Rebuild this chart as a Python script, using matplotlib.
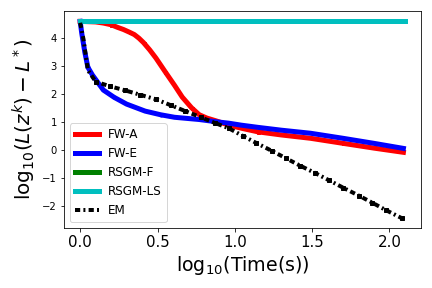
import numpy as np
import matplotlib.pyplot as plt

# FW-A
fwa_x = [0.0, 0.1, 0.15, 0.2, 0.24, 0.28, 0.32, 0.35, 0.38, 0.41, 0.45, 0.49, 0.55, 0.61,
         0.66, 0.72, 0.77, 0.82, 0.88, 0.96, 1.05, 1.15, 1.3, 1.49, 1.7, 1.9, 2.09]
fwa_y = [4.60, 4.58, 4.54, 4.48, 4.39, 4.31, 4.21, 4.13, 4.00, 3.84, 3.58, 3.29, 2.80, 2.32,
         1.90, 1.52, 1.27, 1.15, 1.05, 0.90, 0.78, 0.66, 0.55, 0.43, 0.25, 0.08, -0.07]

# FW-E
fwe_x = [0.0, 0.01, 0.03, 0.05, 0.08, 0.15, 0.22, 0.3, 0.42, 0.52, 0.61, 0.77, 0.88, 0.96,
         1.04, 1.15, 1.3, 1.49, 1.7, 1.9, 2.09]
fwe_y = [4.60, 4.18, 3.50, 2.96, 2.68, 2.15, 1.89, 1.65, 1.40, 1.27, 1.18, 1.10, 1.02, 0.97,
         0.90, 0.82, 0.72, 0.61, 0.43, 0.25, 0.07]

# RSGM-F / RSGM-LS (flat)
rsgm_x = [0.0, 2.1]
rsgmf_y = [4.62, 4.62]
rsgmls_y = [4.62, 4.62]

# EM
em_x = [0.0, 0.02, 0.05, 0.10, 0.19, 0.29, 0.39, 0.49, 0.59, 0.68, 0.78, 0.87, 0.96, 1.05,
        1.14, 1.24, 1.33, 1.42, 1.52, 1.61, 1.70, 1.80, 1.89, 1.98, 2.08]
em_y = [4.55, 4.0, 2.86, 2.45, 2.29, 2.14, 1.98, 1.82, 1.60, 1.40, 1.18, 0.98, 0.79, 0.52,
        0.26, -0.02, -0.28, -0.54, -0.81, -1.07, -1.33, -1.61, -1.87, -2.14, -2.42]

fig = plt.figure(figsize=(6, 4), dpi=72)
ax = fig.add_axes([0.148, 0.208, 0.827, 0.754])

ax.plot(fwa_x, fwa_y, color='r', lw=5, marker='s', ms=3, mfc='none', markevery=3, label='FW-A')
ax.plot(fwe_x, fwe_y, color='b', lw=5, marker='o', ms=3, mfc='none', markevery=3, label='FW-E')
ax.plot(rsgm_x, rsgmf_y, color='g', lw=5, label='RSGM-F')
ax.plot(rsgm_x, rsgmls_y, color='c', lw=5, label='RSGM-LS')
ax.plot(em_x, em_y, color='k', lw=4, ls=(0, (1.3, 0.8, 0.5, 0.8)), marker='s', ms=4,
        markevery=list(range(3, len(em_x))), label='EM')

ax.set_xlabel(r'$\mathrm{log}_{10}$(Time(s))', fontsize=19)
ax.set_ylabel(r'$\mathrm{log}_{10}(L(z^k)-L^*)$', fontsize=20)
ax.tick_params(axis='x', labelsize=15)
ax.tick_params(axis='y', labelsize=10)
ax.set_xticks([0.0, 0.5, 1.0, 1.5, 2.0])
ax.legend(loc='lower left', fontsize=12, markerscale=0)

fig.savefig('out.png', dpi=72)
